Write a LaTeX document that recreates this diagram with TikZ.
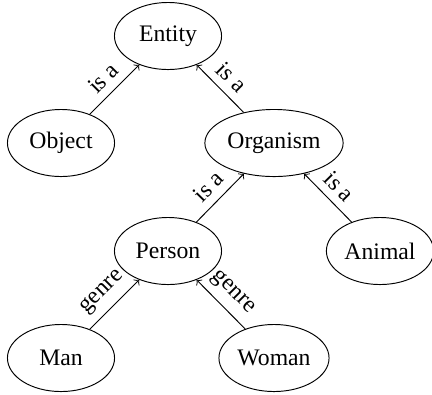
\documentclass[tikz,border=0pt]{standalone}
\usepackage{fontspec}
\setmainfont{Liberation Serif}
\usetikzlibrary{shapes.geometric}
\begin{document}
\begin{tikzpicture}[x=0.422pt,y=-0.422pt,
  concept/.style={draw, ellipse, minimum width=45.2pt, minimum height=28.3pt, inner sep=1pt},
  rel/.style={->},
  lab/.style={sloped, above}]
\useasboundingbox (0,0) rectangle (432,394);
\node[concept] (entity) at (168,36) {Entity};
\node[concept] (object) at (61,143) {Object};
\node[concept, minimum width=57pt] (organism) at (274,143) {Organism};
\node[concept] (person) at (168,251) {Person};
\node[concept] (animal) at (380,251) {Animal};
\node[concept] (man) at (61,358) {Man};
\node[concept] (woman) at (274,358) {Woman};
\draw[rel] (object) -- node[lab] {is a} (entity);
\draw[rel] (organism) -- node[lab] {is a} (entity);
\draw[rel] (person) -- node[lab] {is a} (organism);
\draw[rel] (animal) -- node[lab] {is a} (organism);
\draw[rel] (man) -- node[lab] {genre} (person);
\draw[rel] (woman) -- node[lab] {genre} (person);
\end{tikzpicture}
\end{document}
